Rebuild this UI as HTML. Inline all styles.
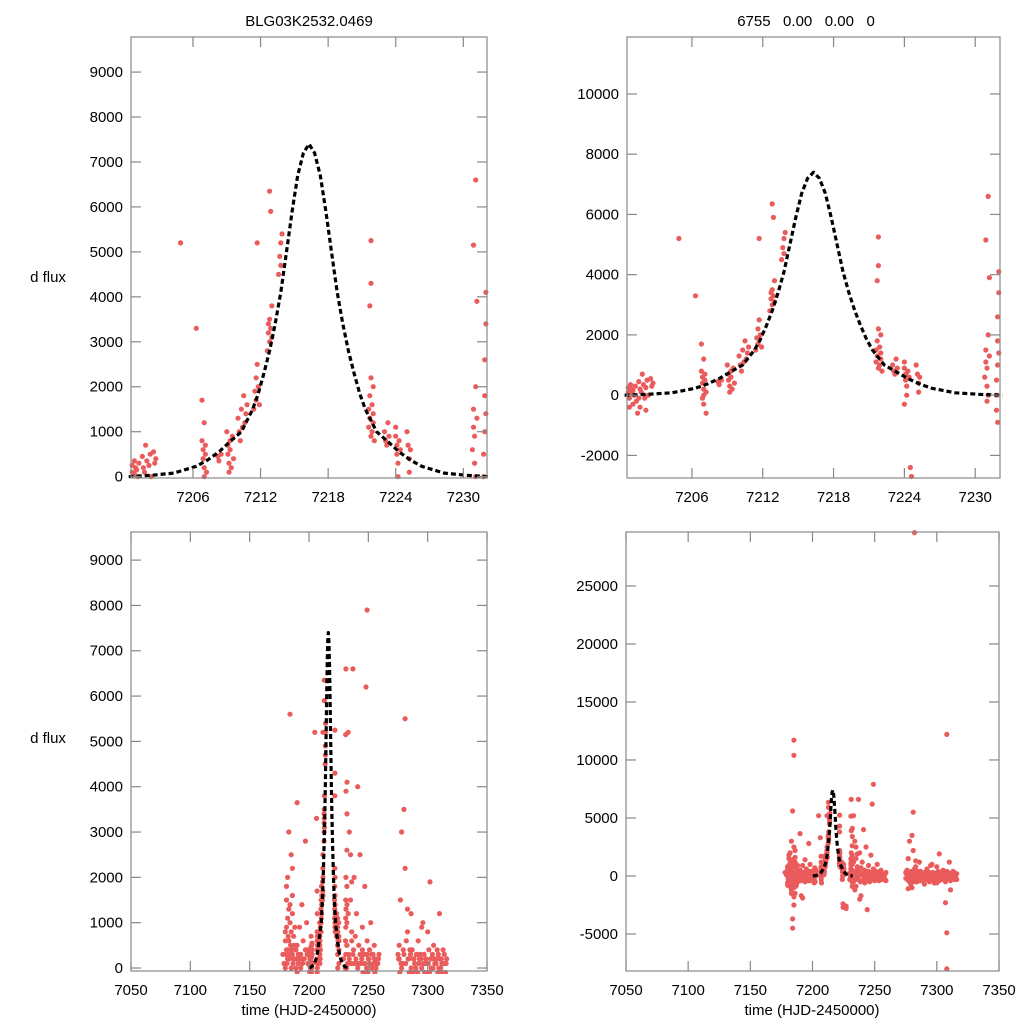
<!DOCTYPE html>
<html><head><meta charset="utf-8">
<style>
html,body{margin:0;padding:0;background:#fff;width:1024px;height:1024px;overflow:hidden;position:relative;}
svg{display:block;position:absolute;left:0;top:0;font-family:"Liberation Sans",Arial,sans-serif;}
</style></head>
<body>
<svg id="chart" width="1024" height="1024" viewBox="0 0 1024 1024" xmlns="http://www.w3.org/2000/svg">
<rect width="1024" height="1024" fill="#fff"/>
<text x="309" y="26" font-size="15" text-anchor="middle">BLG03K2532.0469</text>
<text x="806" y="26" font-size="15" text-anchor="middle" xml:space="preserve">6755   0.00   0.00   0</text>
<text x="48" y="282" font-size="15" text-anchor="middle">d flux</text>
<text x="48" y="743" font-size="15" text-anchor="middle">d flux</text>
<text x="309" y="1015" font-size="15" text-anchor="middle">time (HJD-2450000)</text>
<text x="812" y="1015" font-size="15" text-anchor="middle">time (HJD-2450000)</text>
</svg>
<script>
// ---- data ----
const modelT = [7200.3,7202.3,7204.3,7206.3,7207.3,7208.3,7209.3,7210.3,7211.3,7211.8,7212.3,7212.8,7213.3,7213.8,7214.3,7214.8,7215.3,7215.8,7216.3,7216.8,7217.3,7217.8,7218.3,7218.8,7219.3,7219.8,7220.3,7220.8,7221.3,7222.3,7223.3,7224.3,7225.3,7226.3,7228.3,7230.3,7232.3];
const modelF = [0,30,80,230,370,550,780,1000,1500,1850,2300,2800,3400,4100,5000,5900,6700,7200,7400,7200,6700,5900,5000,4100,3400,2800,2300,1850,1500,1000,780,550,370,230,80,30,0];
const peakData = [[7200.6,100],[7200.6,250],[7200.7,-100],[7200.8,350],[7200.8,50],[7200.9,200],[7201,-300],[7201,150],[7201.1,0],[7201.2,300],[7201.3,-200],[7201.5,450],[7201.6,200],[7201.6,-400],[7201.7,100],[7201.8,700],[7201.9,350],[7202,-100],[7202.1,250],[7202.2,500],[7202.3,0],[7202.5,550],[7202.6,300],[7202.7,400],[7202.1,-500],[7201.4,-600],[7200.7,-400],[7201.5,-100],
[7204.9,5200],[7206.3,3300],
[7206.8,1700],[7206.8,800],[7206.9,600],[7206.9,400],[7207,200],[7207,0],[7207,-300],[7207.1,700],[7207.1,500],[7207.2,100],[7207.2,-600],[7207.0,1200],[7206.9,-100],
[7208.2,450],[7208.3,350],[7208.5,500],
[7209,1000],[7209.1,700],[7209.1,500],[7209.2,300],[7209.2,100],[7209.3,800],[7209.3,600],[7209.4,200],[7209.5,900],[7209.6,400],
[7210,1300],[7210.1,1000],[7210.2,800],[7210.3,1500],[7210.4,1100],[7210.5,1800],[7210.6,1200],[7210.7,1400],[7210.8,1600],
[7211.4,1500],[7211.5,1900],[7211.6,2200],[7211.6,1700],[7211.7,2500],[7211.8,2000],[7211.9,1600],[7211.7,5200],
[7212.6,2800],[7212.7,3200],[7212.8,3000],[7212.8,3500],[7212.9,3300],[7213,3800],[7213.0,3100],[7212.9,5900],[7212.8,6350],[7212.7,3400],
[7213.6,4500],[7213.7,4900],[7213.8,5200],[7213.9,5400],[7213.8,4700],
[7221.6,1100],[7221.6,1500],[7221.7,1800],[7221.7,1300],[7221.8,900],[7221.8,2200],[7221.9,1600],[7221.9,1000],[7222,1400],[7222,1200],[7222.1,800],[7221.8,4300],[7221.8,5250],[7221.7,3800],[7222,2000],
[7223,1000],[7223.1,800],[7223.2,700],[7223.3,1200],[7223.4,900],
[7224,1100],[7224,900],[7224.1,700],[7224.1,500],[7224.2,300],[7224.2,0],[7224.3,800],[7224.4,600],[7224.0,-300],[7224.5,-2400],[7224.6,-2700],
[7225,1000],[7225.1,700],[7225.2,400],[7225.2,100],[7225.3,600],
[7230.8,600],[7230.9,1100],[7230.9,1500],[7231,300],[7231,900],[7231.1,0],[7231.1,2000],[7231.2,1300],[7230.9,5150],[7231.1,6600],[7231.2,3900],[7231.0,-200],
[7231.8,0],[7231.8,500],[7231.9,1000],[7231.9,1800],[7231.9,2600],[7232,3400],[7232,4100],[7231.8,-500],[7231.9,-900],[7232,1400]];
const seasonData = [[7178,300],[7179,100],[7180,800],[7181,1500],[7181,400],[7182,200],[7182,2000],[7183,600],[7183,3000],[7184,5600],[7184,1000],[7184,-4500],[7184,-3700],[7185,11700],[7185,10400],[7185,2500],[7185,-2500],[7186,-1500],[7186,1200],[7186,300],[7187,700],[7188,200],[7189,0],[7190,3650],[7190,500],[7191,100],[7192,900],[7193,300],[7194,1400],[7195,600],[7196,200],[7197,2800],[7198,1000],[7199,400],[7180,-800],[7183,-1200],[7188,-500],[7195,-300],[7191,-1700],[7192,-1900],
[7233,5200],[7234,3000],[7235,1500],[7236,800],[7237,6600],[7237,300],[7238,2000],[7238,-2000],[7240,1200],[7241,4000],[7242,500],[7243,2500],[7244,100],[7245,900],[7246,300],[7247,1800],[7248,6200],[7249,7900],[7249,600],[7250,200],[7251,400],[7252,1000],[7253,0],[7254,300],[7255,500],[7256,200],[7258,100],[7239,-1700],[7245,-400],[7227,-2600],[7227,-2800],[7244,-2900],
[7275,300],[7276,200],[7277,1500],[7278,3000],[7279,100],[7280,3500],[7281,5500],[7282,29600],[7283,800],[7284,-500],[7285,400],[7286,1200],[7288,200],[7290,0],[7292,600],[7294,300],[7296,1000],[7298,100],[7300,800],[7302,1900],[7303,200],[7305,500],[7307,100],[7308,12200],[7308,-4900],[7308,-8000],[7309,300],[7310,1200],[7311,0],[7313,400],[7314,100],[7300,-600],[7290,-400],[7280,-1000],[7281,2200],[7307,-2300]];
const bandData = [[7180,0],[7180,600],[7180,-600],[7181,-300],[7181,900],[7182,-900],[7182,400],[7183,-200],[7183,1300],[7184,300],[7184,-700],[7185,0],[7185,800],[7185,-1000],[7186,-300],[7186,1600],[7187,-800],[7187,200],[7188,900],[7189,-400],[7189,400],[7190,-100],[7191,300],[7192,-300],[7193,0],[7194,-500],[7195,200],[7196,-200],[7197,400],[7198,-400],[7199,100],[7200,-200],[7201,300],[7203,100],
[7229,200],[7230,-300],[7232,500],[7233,-500],[7234,200],[7235,-900],[7236,600],[7237,-300],[7238,100],[7239,700],[7240,-400],[7241,0],[7242,-600],[7243,300],[7244,-200],[7245,400],[7246,-500],[7247,100],[7248,-300],[7249,300],[7250,-400],[7251,100],[7252,-300],[7253,300],[7254,-200],[7255,200],[7256,-300],[7257,100],[7258,-200],[7259,300],[7259,-400],
[7275,-200],[7276,500],[7277,-400],[7278,0],[7279,-700],[7280,300],[7281,-200],[7282,600],[7283,-500],[7284,200],[7285,-300],[7286,0],[7287,400],[7288,-400],[7289,100],[7290,-700],[7291,300],[7292,-200],[7293,200],[7294,-500],[7295,0],[7296,-300],[7297,300],[7298,-600],[7299,100],[7300,-200],[7301,400],[7302,-400],[7303,0],[7304,300],[7305,-300],[7306,100],[7307,-500],[7308,400],[7309,-200],[7310,200],[7311,-400],[7312,100],[7313,-200],[7314,300],[7315,-100],[7316,200],[7316,-300]];
const bandData2 = [[7180.5,300],[7180.5,-300],[7181.5,100],[7181.5,-700],[7182.5,700],[7182.5,-200],[7183.5,-600],[7183.5,200],[7184.5,500],[7184.5,-300],[7185.5,-600],[7185.5,400],[7186.5,100],[7186.5,-900],[7187.5,500],[7188.5,-200],[7189.5,200],[7190.5,-400],[7192.5,200],[7194.5,100],[7196.5,-400],[7198.5,300],[7182,1100],[7184,1400],[7186,2200],[7183,-1500],[7185,-1800],[7181,1800],
[7230.5,0],[7231.5,-400],[7232.5,100],[7233.5,300],[7234.5,-300],[7235.5,100],[7236.5,-200],[7237.5,400],[7238.5,-500],[7239.5,200],[7240.5,100],[7241.5,-300],[7242.5,100],[7243.5,-400],[7244.5,200],[7245.5,-100],[7246.5,300],[7247.5,-200],[7248.5,0],[7249.5,-100],[7250.5,200],[7251.5,-200],[7252.5,0],[7253.5,-400],[7254.5,100],[7255.5,-100],[7256.5,0],[7257.5,-300],[7258.5,200],[7233,1200],[7234,-1200],[7236,1900],[7235,2500],
[7275.5,200],[7276.5,-100],[7277.5,100],[7278.5,-300],[7279.5,400],[7280.5,-500],[7281.5,100],[7282.5,-200],[7283.5,200],[7284.5,-100],[7285.5,300],[7286.5,-400],[7287.5,-100],[7288.5,200],[7289.5,-300],[7290.5,300],[7291.5,-100],[7292.5,100],[7293.5,-300],[7294.5,200],[7295.5,-200],[7296.5,100],[7297.5,-100],[7298.5,200],[7299.5,-300],[7300.5,100],[7301.5,-100],[7302.5,200],[7303.5,-300],[7304.5,0],[7305.5,200],[7306.5,-200],[7307.5,200],[7308.5,-100],[7309.5,0],[7310.5,-300],[7311.5,200],[7312.5,-100],[7313.5,100],[7314.5,-300],[7315.5,100],[7277,-1100],[7283,1300],[7295,900],[7311,-1200]];
const topXTicks = [7206,7212,7218,7224,7230];
const bottomXTicks = [7050,7100,7150,7200,7250,7300,7350];
const tlYTicks = [0,1000,2000,3000,4000,5000,6000,7000,8000,9000];
const trYTicks = [-2000,0,2000,4000,6000,8000,10000];
const blYTicks = [0,1000,2000,3000,4000,5000,6000,7000,8000,9000];
const brYTicks = [-5000,0,5000,10000,15000,20000,25000];

// ---- drawing ----
const NS = 'http://www.w3.org/2000/svg';
const svg = document.getElementById('chart');
function mk(tag, attrs, parent){const e=document.createElementNS(NS,tag);for(const k in attrs)e.setAttribute(k,attrs[k]);(parent||svg).appendChild(e);return e;}

const panels = [
 {id:'top-left', x0:131,x1:487,y0:37,y1:478, tmin:7200.5,tmax:7232.1, fmin:-30,fmax:9780, xt:topXTicks, yt:tlYTicks, full:false},
 {id:'top-right', x0:627,x1:1000,y0:37,y1:478, tmin:7200.5,tmax:7232.1, fmin:-2750,fmax:11890, xt:topXTicks, yt:trYTicks, full:false},
 {id:'bottom-left', x0:131,x1:487,y0:532,y1:971, tmin:7050,tmax:7350, fmin:-66,fmax:9620, xt:bottomXTicks, yt:blYTicks, full:true},
 {id:'bottom-right', x0:626,x1:999,y0:532,y1:971, tmin:7050,tmax:7350, fmin:-8190,fmax:29650, xt:bottomXTicks, yt:brYTicks, full:true}
];
panels.forEach((p,pi)=>{
  const xs = t => p.x0 + (t-p.tmin)/(p.tmax-p.tmin)*(p.x1-p.x0);
  const ys = f => p.y1 - (f-p.fmin)/(p.fmax-p.fmin)*(p.y1-p.y0);
  const g = mk('g',{});
  
  
  const cp = mk('clipPath',{id:'clip'+pi}, g);
  mk('rect',{x:p.x0-3,y:p.y0-3,width:p.x1-p.x0+6,height:p.y1-p.y0+6},cp);
  const pts = mk('g',{'clip-path':'url(#clip'+pi+')'}, g);
  
  
  const all = p.full ? peakData.concat(seasonData, bandData, bandData2) : peakData;
  all.forEach(d=>{
    if(d[0]<p.tmin||d[0]>p.tmax) return;
    const cy = ys(d[1]);
    if(cy < p.y0-3 || cy > p.y1+3) return;
    const c = mk('circle',{cx:xs(d[0]).toFixed(1),cy:cy.toFixed(1),r:2.6,fill:'#ea5b5b'},pts);
    
    
  });
  let dstr='';
  modelT.forEach((t,i)=>{ dstr += (dstr?'L':'M')+xs(t).toFixed(1)+','+ys(modelF[i]).toFixed(1);});
  const ml = mk('path',{d:dstr,fill:'none',stroke:'#000','stroke-width':3.2,'stroke-dasharray':'5,3','stroke-linejoin':'round'},pts);
  
  
  const fr = mk('rect',{x:p.x0,y:p.y0,width:p.x1-p.x0,height:p.y1-p.y0,fill:'none',stroke:'#888','stroke-width':1.2},g);
  
  
  p.xt.forEach(t=>{
    const x = xs(t);
    mk('line',{x1:x,x2:x,y1:p.y1,y2:p.y1-10,stroke:'#888','stroke-width':1.2},g);
    mk('line',{x1:x,x2:x,y1:p.y0,y2:p.y0+10,stroke:'#888','stroke-width':1.2},g);
    const tx = mk('text',{x:x,y:p.y1+24,'font-size':15,'text-anchor':'middle'},g);
    tx.textContent = t;
    
    
  });
  p.yt.forEach(f=>{
    const y = ys(f);
    mk('line',{x1:p.x0,x2:p.x0+10,y1:y,y2:y,stroke:'#888','stroke-width':1.2},g);
    mk('line',{x1:p.x1,x2:p.x1-10,y1:y,y2:y,stroke:'#888','stroke-width':1.2},g);
    const tx = mk('text',{x:p.x0-8,y:y+5,'font-size':15,'text-anchor':'end'},g);
    tx.textContent = f;
    
    
  });
});
</script>
</body></html>
